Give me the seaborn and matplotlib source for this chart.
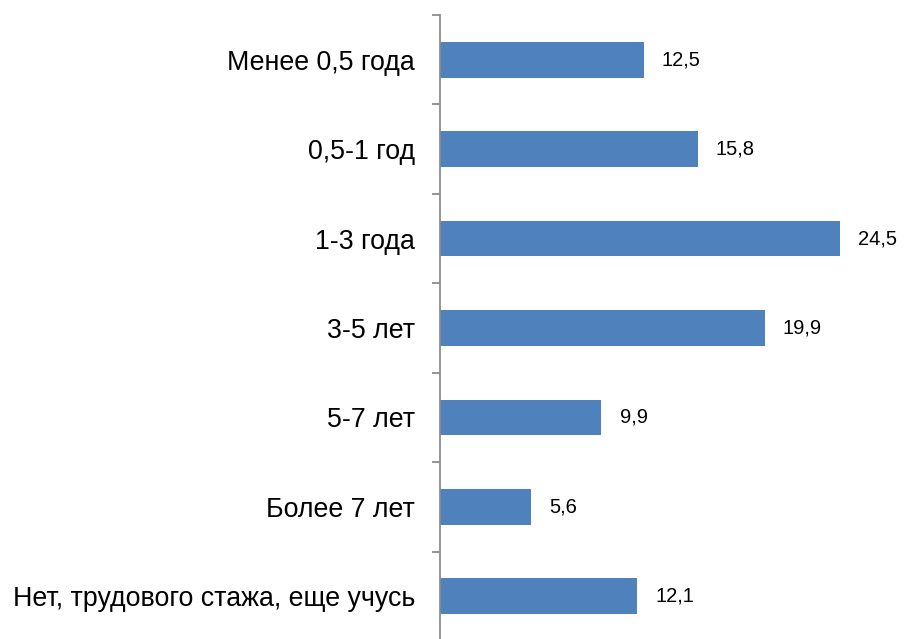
import numpy as np
import pandas as pd
import seaborn as sns
import matplotlib.pyplot as plt
from matplotlib.ticker import FixedLocator

categories = ["Менее 0,5 года", "0,5-1 год", "1-3 года", "3-5 лет", "5-7 лет",
              "Более 7 лет", "Нет, трудового стажа, еще учусь"]
values = [12.5, 15.8, 24.5, 19.9, 9.9, 5.6, 12.1]

df = pd.DataFrame({"cat": categories, "val": values})

sns.set_style("white")
plt.rcParams['font.family'] = ['Liberation Sans', 'DejaVu Sans']

fig = plt.figure(figsize=(9.05, 6.39), dpi=100)
# axes: x from 440 px to right, y from 15 px to ~641 px
ax = fig.add_axes([440 / 905, -2 / 639, 460 / 905, 626 / 639])

sns.barplot(data=df, x="val", y="cat", orient="h", color="#4F81BD",
            saturation=1, width=0.4, linewidth=0, ax=ax)

ax.set_xlim(0, 28.2)
ax.set_ylim(len(categories) - 0.5, -0.5)
ax.set_xlabel("")
ax.set_ylabel("")
ax.set_xticks([])

for s in ["top", "right", "bottom"]:
    ax.spines[s].set_visible(False)
ax.spines["left"].set_color("#8C8C8C")
ax.spines["left"].set_linewidth(1.3)

ax.tick_params(axis="y", which="major", left=False, pad=14.5, labelsize=19.3,
               labelcolor="black")
ax.yaxis.set_minor_locator(FixedLocator(np.arange(-0.5, len(categories), 1)))
ax.tick_params(axis="y", which="minor", left=True, length=6, width=1.3,
               color="#8C8C8C", direction="out")

for c in ax.containers:
    ax.bar_label(c, labels=[f"{v:.1f}".replace(".", ",") for v in values],
                 padding=13, fontsize=14.5, color="black")

fig.savefig("out.png", dpi=100)
